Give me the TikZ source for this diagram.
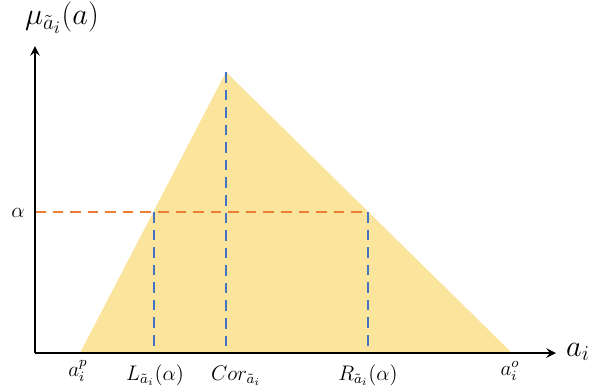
\documentclass[tikz,border=0pt]{standalone}
\usepackage{amsmath}
\definecolor{fuzzyfill}{HTML}{FBE49C}
\definecolor{alphacut}{HTML}{ED7D31}
\definecolor{projline}{HTML}{4472C4}
\tikzset{
  cutline/.style={dashed, alphacut, line width=1.3pt, dash pattern=on 6pt off 4pt},
  projdash/.style={dashed, projline, line width=1.3pt, dash pattern=on 6pt off 4pt},
  axislab/.style={inner sep=1pt, font=\large}
}
\begin{document}
\begin{tikzpicture}[x=0.02cm, y=-0.02cm, >=stealth, thick]
  \useasboundingbox (0,0) rectangle (598,386);
  % 1. membership triangle
  \coordinate (ap) at (80,353);
  \coordinate (top) at (226,72);
  \coordinate (ao) at (512,353);
  \fill[fuzzyfill] (ap) -- (top) -- (ao) -- cycle;

  % 2. alpha cut and projections
  \coordinate (O) at (35,353);
  \coordinate (cutL) at (154,212);
  \coordinate (cutR) at (368,212);
  \coordinate (alphaY) at (35,212);
  \draw[cutline] (alphaY) -- (cutR);
  \draw[projdash] (cutL) -- (154,353);
  \draw[projdash] (top) -- (226,353);
  \draw[projdash] (cutR) -- (368,353);

  % 3. axes
  \coordinate (xend) at (556,353);
  \coordinate (yend) at (35,46);
  \draw[->, line width=1.4pt] (O) -- (xend);
  \draw[->, line width=1.4pt] (O) -- (yend);

  % 4. labels
  \node[axislab, font=\LARGE] (mu) at (62,18) {$\mu_{\tilde{a}_i}(a)$};
  \node[axislab, font=\LARGE] (alab) at (578,352) {$a_i$};
  \node[axislab] (alpha) at (18,213) {$\alpha$};
  \node[axislab] (lp) at (78,371) {$a_i^p$};
  \node[axislab] (lL) at (155,375) {$L_{\tilde{a}_i}(\alpha)$};
  \node[axislab] (lC) at (236,376) {$Cor_{\tilde{a}_i}$};
  \node[axislab] (lR) at (368,375) {$R_{\tilde{a}_i}(\alpha)$};
  \node[axislab] (lo) at (510,371) {$a_i^o$};
\end{tikzpicture}
\end{document}
